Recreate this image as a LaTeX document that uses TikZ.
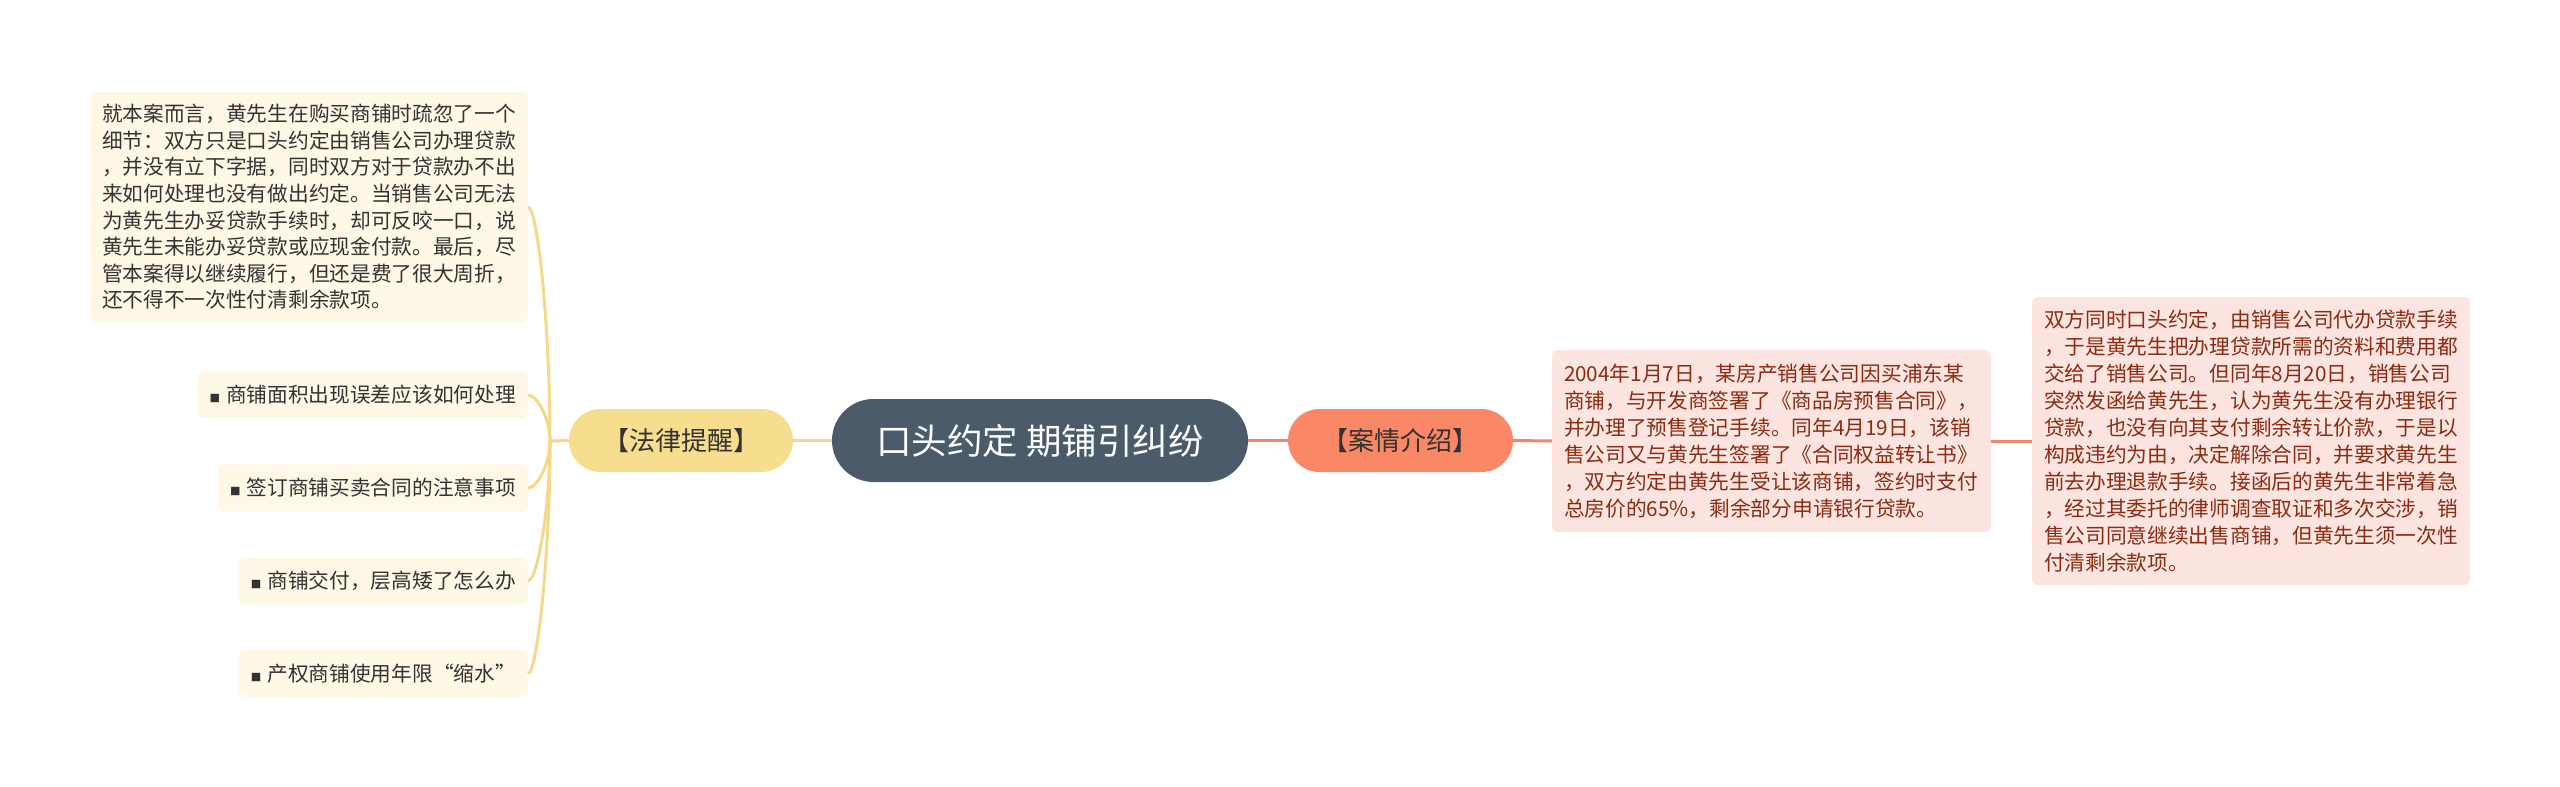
\documentclass[tikz,border=0pt]{standalone}
\usepackage{fontspec}
\setmainfont{Noto Sans CJK SC}
\usetikzlibrary{calc}
\definecolor{slate}{HTML}{4B5B6A}
\definecolor{goldfill}{HTML}{F7DE8E}
\definecolor{goldline}{HTML}{F4D98A}
\definecolor{creamfill}{HTML}{FEF8E7}
\definecolor{salmonfill}{HTML}{FA8765}
\definecolor{salmonline}{HTML}{EF876A}
\definecolor{pinkfill}{HTML}{FCE5E0}
\definecolor{redtext}{HTML}{8B2B12}
\definecolor{darktext}{HTML}{333333}
\tikzset{
  rootnode/.style={fill=slate, text=white, rounded corners=41.5, minimum width=416, minimum height=83, inner sep=0, font=\fontsize{35.5}{40}\selectfont},
  lawnode/.style={fill=goldfill, text=darktext, rounded corners=31.5, minimum width=224, minimum height=63, inner sep=0, font=\fontsize{26}{30}\selectfont},
  casenode/.style={fill=salmonfill, text=darktext, rounded corners=31.5, minimum width=225, minimum height=63, inner sep=0, font=\fontsize{26}{30}\selectfont},
  notebox/.style={fill=creamfill, text=darktext, rounded corners=6, inner xsep=12, inner ysep=0, align=left, font=\fontsize{20.7}{26.6}\selectfont},
  itembox/.style={fill=creamfill, text=darktext, rounded corners=6, inner xsep=12, inner ysep=0, minimum height=47, font=\fontsize{20.7}{26.6}\selectfont},
  casebox/.style={fill=pinkfill, text=redtext, rounded corners=6, inner xsep=12, inner ysep=0, align=left, font=\fontsize{20.7}{27}\selectfont},
  yline/.style={draw=goldline, line width=3},
  sline/.style={draw=salmonline, line width=3},
}
\newcommand{\bul}{{\fontsize{10.5}{10.5}\selectfont ■}\hspace{6pt}}
\begin{document}
\begin{tikzpicture}[x=1pt,y=-1pt]
\useasboundingbox[fill=white] (0,0) rectangle (2560,787);

\node[rootnode] (root) at (1040,440.5) {口头约定 期铺引纠纷};
\node[lawnode] (law) at (681,440.5) {【法律提醒】};
\node[casenode] (case) at (1400.5,440.5) {【案情介绍】};

\node[notebox, text width=414, minimum height=230] (note) at (309,207) {就本案而言，黄先生在购买商铺时疏忽了一个\\细节：双方只是口头约定由销售公司办理贷款\\，并没有立下字据，同时双方对于贷款办不出\\来如何处理也没有做出约定。当销售公司无法\\为黄先生办妥贷款手续时，却可反咬一口，说\\黄先生未能办妥贷款或应现金付款。最后，尽\\管本案得以继续履行，但还是费了很大周折，\\还不得不一次性付清剩余款项。};

\node[itembox, anchor=east] (i1) at (528,395) {\bul 商铺面积出现误差应该如何处理};
\node[itembox, anchor=east] (i2) at (528,488) {\bul 签订商铺买卖合同的注意事项};
\node[itembox, anchor=east] (i3) at (528,581) {\bul 商铺交付，层高矮了怎么办};
\node[itembox, anchor=east] (i4) at (528,673.5) {\bul 产权商铺使用年限“缩水”};

\node[casebox, text width=415, minimum height=182] (c1) at (1771.5,441) {2004年1月7日，某房产销售公司因买浦东某\\商铺，与开发商签署了《商品房预售合同》，\\并办理了预售登记手续。同年4月19日，该销\\售公司又与黄先生签署了《合同权益转让书》\\，双方约定由黄先生受让该商铺，签约时支付\\总房价的65\%，剩余部分申请银行贷款。};

\node[casebox, text width=414, minimum height=288] (c2) at (2251,441) {双方同时口头约定，由销售公司代办贷款手续\\，于是黄先生把办理贷款所需的资料和费用都\\交给了销售公司。但同年8月20日，销售公司\\突然发函给黄先生，认为黄先生没有办理银行\\贷款，也没有向其支付剩余转让价款，于是以\\构成违约为由，决定解除合同，并要求黄先生\\前去办理退款手续。接函后的黄先生非常着急\\，经过其委托的律师调查取证和多次交涉，销\\售公司同意继续出售商铺，但黄先生须一次性\\付清剩余款项。};

% connectors
\draw[yline] (root.west) -- (law.east);
\draw[sline] (root.east) -- (case.west);
\draw[sline] (case.east) -- (c1.west);
\draw[sline] (c1.east) -- (c2.west);

\coordinate (hub) at (550,441);
\draw[yline] (law.west) -- (hub);
\foreach \c in {note,i1,i2,i3,i4}{
  \draw[yline] (hub) .. controls ($(hub)!0.5!(hub|-\c.east)$) and ($(\c.east)+(9,0)$) .. (\c.east);
}
\end{tikzpicture}
\end{document}
